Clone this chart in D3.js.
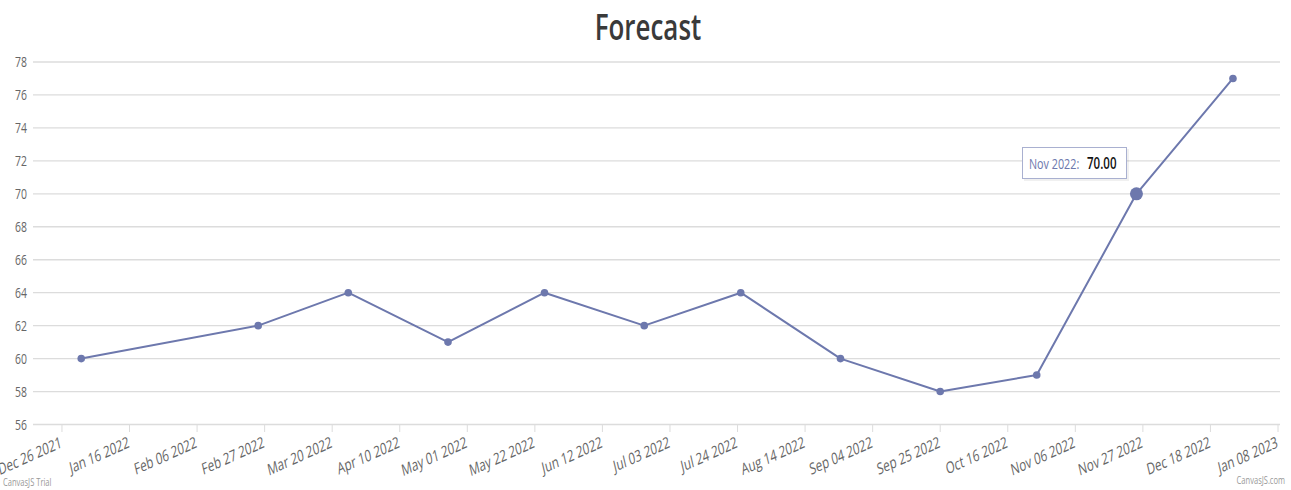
<!DOCTYPE html>
<html>
<head>
<meta charset="utf-8">
<script src="https://cdn.jsdelivr.net/npm/d3@7"></script>
<style>
  body { margin: 0; background: #fff; }
  svg { display: block; font-family: "Open Sans", sans-serif; }
</style>
</head>
<body>
<svg id="chart" width="1291" height="490"></svg>
<script>
// data
const dates = ["2022-01-01", "2022-02-25", "2022-03-25", "2022-04-25", "2022-05-25", "2022-06-25",
               "2022-07-25", "2022-08-25", "2022-09-25", "2022-10-25", "2022-11-25", "2022-12-25"];
const values = [60, 62, 64, 61, 64, 62, 64, 60, 58, 59, 70, 77];
const yTicks = [56, 58, 60, 62, 64, 66, 68, 70, 72, 74, 76, 78];
const xTickStart = "2021-12-26";
const xTickCount = 19;     // every 21 days up to Jan 08 2023
const highlightIdx = 10;   // Nov 2022, shown with tooltip

const parse = d3.utcParse("%Y-%m-%d");
const data = dates.map((d, i) => ({date: parse(d), value: values[i]}));
const xTicks = d3.range(xTickCount).map(i => d3.utcDay.offset(parse(xTickStart), i * 21));

const SX = 0.72;   // the whole picture is squeezed sideways
const color = "#6D78AD";

const svg = d3.select("#chart");

const x = d3.scaleUtc()
  .domain([parse("2021-12-17"), parse("2023-01-08")])
  .range([33, 1278]);
const y = d3.scaleLinear()
  .domain([56, 78])
  .range([424.5, 62]);

let squeezed = function(g, px, py, angle) {
  return g.append("g")
    .attr("transform", `translate(${px} ${py}) scale(${SX} 1) rotate(${angle || 0})`);
};

// title
squeezed(svg, 648, 39.5).append("text")
  .attr("text-anchor", "middle")
  .attr("font-size", 36)
  .attr("font-weight", 600)
  .attr("fill", "#3A3A3A")
  .text("Forecast");

// grid + y labels
svg.append("g").selectAll("line")
  .data(yTicks)
  .join("line")
    .attr("x1", 33).attr("x2", 1280)
    .attr("y1", d => y(d)).attr("y2", d => y(d))
    .attr("stroke", "#DCDCDC")
    .attr("stroke-width", 1.3);

let yLab = svg.append("g");
yTicks.forEach(t => {
  squeezed(yLab, 27, y(t)).append("text")
    .attr("text-anchor", "end")
    .attr("dy", "0.36em")
    .attr("font-size", 14.5)
    .attr("fill", "#666")
    .text(t);
});

// x ticks + rotated labels
svg.append("g").selectAll("line")
  .data(xTicks)
  .join("line")
    .attr("x1", d => x(d)).attr("x2", d => x(d))
    .attr("y1", 425).attr("y2", 432)
    .attr("stroke", "#DCDCDC");

let xLab = svg.append("g");
xTicks.forEach(t => {
  squeezed(xLab, x(t) + 0.5, 447, -18).append("text")
    .attr("text-anchor", "end")
    .attr("font-size", 16)
    .attr("fill", "#666")
    .text(d3.utcFormat("%b %d %Y")(t));
});

// series
svg.append("path")
  .datum(data)
  .attr("fill", "none")
  .attr("stroke", color)
  .attr("stroke-width", 2)
  .attr("stroke-linejoin", "round")
  .attr("d", d3.line().x(d => x(d.date)).y(d => y(d.value)));

svg.append("g").selectAll("circle")
  .data(data)
  .join("circle")
    .attr("cx", d => x(d.date))
    .attr("cy", d => y(d.value))
    .attr("r", (d, i) => i === highlightIdx ? 6.5 : 3.8)
    .attr("fill", color);

// tooltip
let hl = data[highlightIdx];
let tip = svg.append("g");
tip.append("rect")
  .attr("x", 1024).attr("y", 149)
  .attr("width", 105).attr("height", 32)
  .attr("fill", "#000").attr("opacity", 0.06);
tip.append("rect")
  .attr("x", 1022.5).attr("y", 147.5)
  .attr("width", 104).attr("height", 31)
  .attr("fill", "#fff")
  .attr("stroke", "#A9B0D0");
squeezed(tip, 1029, 169).append("text")
  .attr("font-size", 15)
  .attr("fill", color)
  .text(d3.utcFormat("%b %Y")(hl.date) + ":");
squeezed(tip, 1087, 169).append("text")
  .attr("font-size", 16)
  .attr("font-weight", 600)
  .attr("fill", "#111")
  .text(d3.format(".2f")(hl.value));

// credits
squeezed(svg, 3, 486).append("text")
  .attr("font-size", 10.5)
  .attr("fill", "#999")
  .text("CanvasJS Trial");
squeezed(svg, 1285, 484).append("text")
  .attr("text-anchor", "end")
  .attr("font-size", 10.5)
  .attr("fill", "#999")
  .text("CanvasJS.com");
</script>
</body>
</html>
